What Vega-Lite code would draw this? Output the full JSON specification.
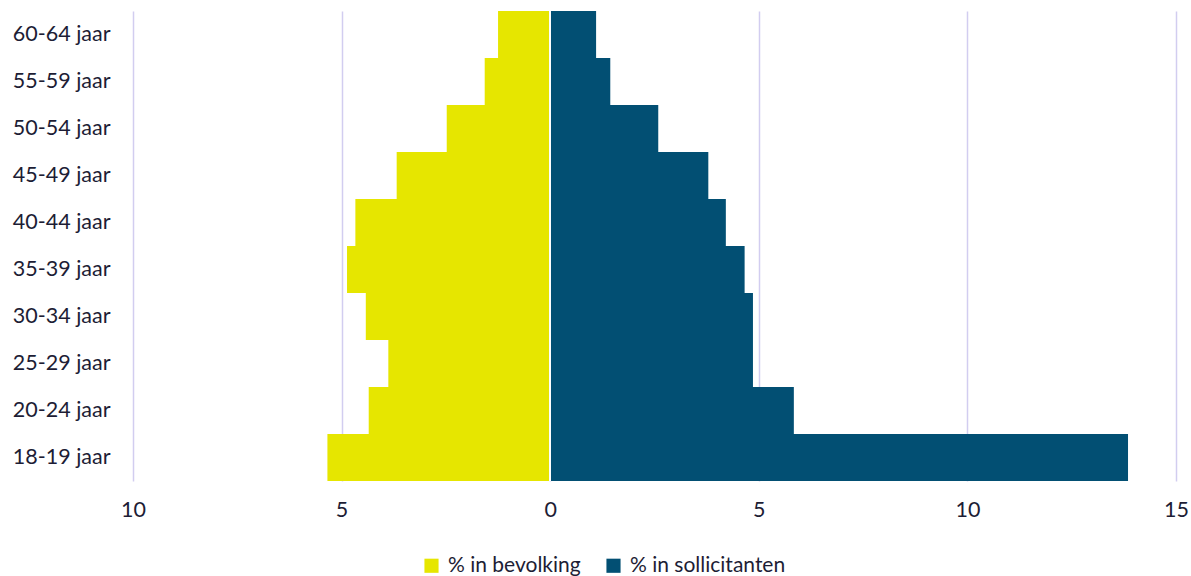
{
  "$schema": "https://vega.github.io/schema/vega-lite/v6.json",
  "width": 1043,
  "height": 470,
  "autosize": {"type": "none"},
  "padding": {"left": 133, "top": 11, "right": 15, "bottom": 95},
  "background": "#ffffff",
  "config": {
    "view": {"stroke": null},
    "font": "Lato",
    "axis": {"labelFont": "Lato", "labelColor": "#1d1d35", "labelFontSize": 21.5},
    "legend": {"labelFont": "Lato", "labelColor": "#1d1d35", "labelFontSize": 21}
  },
  "data": {
    "values": [
      {"leeftijd": "60-64 jaar", "reeks": "% in bevolking", "pct": 1.25},
      {"leeftijd": "55-59 jaar", "reeks": "% in bevolking", "pct": 1.57},
      {"leeftijd": "50-54 jaar", "reeks": "% in bevolking", "pct": 2.48},
      {"leeftijd": "45-49 jaar", "reeks": "% in bevolking", "pct": 3.68},
      {"leeftijd": "40-44 jaar", "reeks": "% in bevolking", "pct": 4.67},
      {"leeftijd": "35-39 jaar", "reeks": "% in bevolking", "pct": 4.87},
      {"leeftijd": "30-34 jaar", "reeks": "% in bevolking", "pct": 4.42},
      {"leeftijd": "25-29 jaar", "reeks": "% in bevolking", "pct": 3.88},
      {"leeftijd": "20-24 jaar", "reeks": "% in bevolking", "pct": 4.35},
      {"leeftijd": "18-19 jaar", "reeks": "% in bevolking", "pct": 5.34},
      {"leeftijd": "60-64 jaar", "reeks": "% in sollicitanten", "pct": 1.10},
      {"leeftijd": "55-59 jaar", "reeks": "% in sollicitanten", "pct": 1.44},
      {"leeftijd": "50-54 jaar", "reeks": "% in sollicitanten", "pct": 2.59},
      {"leeftijd": "45-49 jaar", "reeks": "% in sollicitanten", "pct": 3.79},
      {"leeftijd": "40-44 jaar", "reeks": "% in sollicitanten", "pct": 4.21},
      {"leeftijd": "35-39 jaar", "reeks": "% in sollicitanten", "pct": 4.66},
      {"leeftijd": "30-34 jaar", "reeks": "% in sollicitanten", "pct": 4.86},
      {"leeftijd": "25-29 jaar", "reeks": "% in sollicitanten", "pct": 4.86},
      {"leeftijd": "20-24 jaar", "reeks": "% in sollicitanten", "pct": 5.84},
      {"leeftijd": "18-19 jaar", "reeks": "% in sollicitanten", "pct": 13.85}
    ]
  },
  "transform": [
    {"calculate": "datum.reeks === '% in bevolking' ? -datum.pct : datum.pct", "as": "positie"}
  ],
  "layer": [
    {
      "mark": {"type": "bar"},
      "encoding": {
        "y": {
          "field": "leeftijd",
          "type": "nominal",
          "sort": ["60-64 jaar", "55-59 jaar", "50-54 jaar", "45-49 jaar", "40-44 jaar", "35-39 jaar", "30-34 jaar", "25-29 jaar", "20-24 jaar", "18-19 jaar"],
          "scale": {"paddingInner": 0, "paddingOuter": 0},
          "axis": {"title": null, "domain": false, "ticks": false, "labelPadding": 23}
        },
        "x": {
          "field": "positie",
          "type": "quantitative",
          "scale": {"domain": [-10, 15], "nice": false, "zero": false},
          "axis": {
            "title": null,
            "values": [-10, -5, 0, 5, 10, 15],
            "labelExpr": "abs(datum.value)",
            "labelFlush": false,
            "labelBound": false,
            "domain": false,
            "ticks": false,
            "labelPadding": 18,
            "grid": true,
            "gridColor": "#d2cdf0",
            "gridWidth": 1.5
          }
        },
        "color": {
          "field": "reeks",
          "type": "nominal",
          "scale": {"domain": ["% in bevolking", "% in sollicitanten"], "range": ["#e6e600", "#024f73"]},
          "legend": {
            "title": null,
            "orient": "none",
            "direction": "horizontal",
            "legendX": 288,
            "legendY": 544,
            "symbolType": "square",
            "symbolSize": 200,
            "symbolStrokeWidth": 0,
            "labelOffset": 6,
            "columnPadding": 22
          }
        }
      }
    },
    {
      "mark": {"type": "rule", "color": "#ffffff", "strokeWidth": 1, "opacity": 0.7},
      "encoding": {"x": {"datum": 0}}
    }
  ]
}
